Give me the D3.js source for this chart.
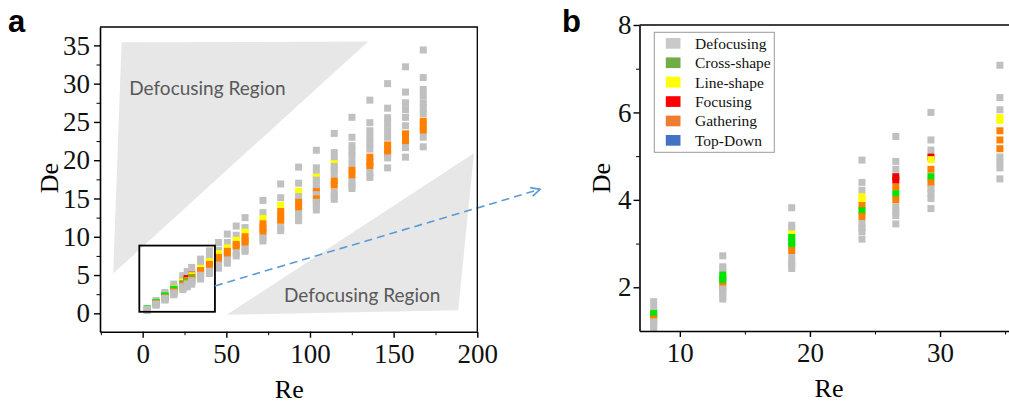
<!DOCTYPE html>
<html>
<head>
<meta charset="utf-8">
<script src="https://cdn.jsdelivr.net/npm/d3@7"></script>
<style>
body { margin: 0; background: #fff; }
svg { display: block; }
</style>
</head>
<body>
<svg id="chart" width="1009" height="405"></svg>
<script>
// Re of each column of runs
const reValues = [2.66, 7.99, 13.3, 18.6, 24.0, 26.6, 29.3, 34.6, 39.9, 45.3, 50.6, 55.9, 61.2,
	71.9, 82.5, 93.2, 103.8, 114.5, 125.1, 135.8, 146.4, 157.1, 167.7]

// De of the runs in each column, listed top to bottom (drawn in that order)
const deValues = [
	[0.6, 0.5, 0.45, 0.36],
	[1.67, 1.52, 1.40, 1.35, 1.27, 1.21, 1.14, 1.06],
	[2.72, 2.47, 2.42, 2.28, 2.20, 2.14, 2.02, 1.96, 1.88, 1.80, 1.73],
	[3.82, 3.42, 3.36, 3.22, 3.14, 3.04, 2.96, 2.84, 2.68, 2.58, 2.50, 2.43],
	[4.91, 4.40, 4.22, 4.07, 4.00, 3.87, 3.75, 3.62, 3.46, 3.36, 3.27, 3.10],
	[5.45, 4.88, 4.70, 4.53, 4.45, 4.29, 4.14, 4.00, 3.84, 3.74, 3.64, 3.45],
	[6.00, 5.37, 5.14, 4.98, 4.92, 4.70, 4.53, 4.39, 4.25, 4.15, 4.03, 3.80],
	[7.08, 6.34, 6.06, 5.88, 5.82, 5.58, 5.37, 5.17, 4.98, 4.86, 4.73, 4.48],
	[8.15, 7.3, 6.75, 6.4, 6.2, 5.5, 5.2],
	[9.25, 8.25, 7.8, 7.3, 6.9, 6.3, 5.9],
	[10.35, 9.25, 8.55, 8.1, 7.75, 6.97, 6.55],
	[11.4, 10.2, 9.55, 9.0, 8.75, 7.9, 7.5],
	[12.5, 11.2, 10.6, 10.0, 9.5, 9.1, 8.4, 8.1],
	[14.75, 13.15, 12.4, 11.7, 11.1, 10.6, 9.85, 9.45],
	[16.9, 15.1, 14.1, 13.3, 12.6, 12.15, 11.2, 10.8],
	[19.1, 17.0, 15.95, 15.85, 15.25, 14.5, 13.75, 13.0, 12.5, 12.1],
	[21.3, 19.0, 18.2, 17.8, 17.4, 16.8, 16.3, 15.9, 15.5, 14.95, 14.5, 14.1, 13.5],
	[23.5, 21.0, 20.2, 19.55, 19.2, 18.7, 18.2, 17.3, 16.75, 15.8, 15.3, 14.9],
	[25.6, 23.0, 21.9, 21.2, 20.5, 19.6, 18.7, 18.0, 17.2, 16.7, 16.3],
	[27.85, 24.9, 23.85, 23.0, 22.2, 21.45, 20.4, 19.7, 19.25, 18.4, 17.75],
	[30.0, 26.8, 25.55, 24.7, 23.85, 23.0, 22.0, 21.4, 20.85, 20.3, 19.0],
	[32.2, 28.9, 27.5, 26.6, 25.6, 24.5, 23.45, 22.75, 22.45, 21.65, 20.4],
	[34.4, 30.8, 29.25, 28.4, 27.5, 26.8, 26.1, 25.1, 24.5, 23.9, 23.0, 21.75],
]

// flow pattern of each run, same order as deValues
// D defocusing, C cross-shape, L line-shape, F focusing, G gathering, T top-down
const classes = [
	'CDDD',
	'DDCCGDDD',
	'DDDCCCGDDDD',
	'DDDLCCCGDDDD',
	'DDDLLGCGDDDD',
	'DDDFFGCGDDDD',
	'DDDFLGCGDDDD',
	'DDDLLGGGDDDD',
	'DDLGGDD',
	'DDLGGDD',
	'DDLGGDD',
	'DDLGGDD',
	'DDLGGGDD',
	'DDLGGGDD',
	'DDLGGGDD',
	'DDLLDGGDDD',
	'DDDLDDDGDGDDD',
	'DDDLDDDGGDDD',
	'DDDDDDGGDDD',
	'DDDDDDGGGDD',
	'DDDDDDGGGDD',
	'DDDDDDGGGDD',
	'DDDDDDDGGGDD',
]

const categories = ['Defocusing', 'Cross-shape', 'Line-shape', 'Focusing', 'Gathering', 'Top-Down']
const codes = ['D', 'C', 'L', 'F', 'G', 'T']
const markerColors = ['#c0c0c0', '#00e400', '#ffff00', '#ee0000', '#ff8000', '#4472c4']
const legendColors = ['#c9c9c9', '#70ad47', '#ffff00', '#ff0000', '#ed7d31', '#4472c4']

// shaded "Defocusing Region" areas in panel a, in (Re, De)
const upperRegion = [[-12.6, 35.4], [134.8, 35.5], [-17.6, 5.2]]
const lowerRegion = [[198, 20.9], [188.6, 0.4], [50.2, -0.2]]
const upperLabel = [-8, 28.5]
const lowerLabel = [84.5, 1.5]
const zoomBox = [[-2, 8.85], [43.2, 0.2]]
const zoomArrow = [[43.2, 3.58], [237.5, 16.2]]

const points = []
reValues.forEach((re, i) => {
	deValues[i].forEach((de, j) => {
		points.push({ re, de, cat: codes.indexOf(classes[i][j]) })
	})
})

const color = d3.scaleOrdinal().domain(d3.range(codes.length)).range(markerColors)
const svg = d3.select('#chart')
const serif = 'Liberation Serif, Times New Roman, serif'
const mark = 7
const fmt = d3.format('d')

function styleAxis(g, size) {
	g.select('.domain').attr('stroke-width', 1.6)
	g.selectAll('.tick line').attr('stroke-width', 1.4)
	g.selectAll('text')
		.attr('font-family', serif)
		.attr('font-size', size)
		.attr('fill', '#111')
}

// ---------- panel a ----------
const xA = d3.scaleLinear().domain([-25.5, 200]).range([100, 477.3])
const yA = d3.scaleLinear().domain([-2.4, 37.4]).range([331.7, 27])
const a = svg.append('g')
const line = d3.line().x(d => xA(d[0])).y(d => yA(d[1]))

a.selectAll('path.region')
		.data([upperRegion, lowerRegion])
	.enter().append('path')
		.attr('class', 'region')
		.attr('d', d => line(d) + 'Z')
		.attr('fill', '#e7e7e7')

a.selectAll('text.region')
		.data([upperLabel, lowerLabel])
	.enter().append('text')
		.attr('class', 'region')
		.attr('x', d => xA(d[0]))
		.attr('y', d => yA(d[1]))
		.attr('font-family', 'Lato, Open Sans, sans-serif')
		.attr('font-size', 19)
		.attr('fill', '#595959')
		.text('Defocusing Region')

a.selectAll('rect.pt')
		.data(points)
	.enter().append('rect')
		.attr('class', 'pt')
		.attr('x', d => xA(d.re) - mark / 2)
		.attr('y', d => yA(d.de) - mark / 2)
		.attr('width', mark)
		.attr('height', mark)
		.attr('fill', d => color(d.cat))

a.append('rect')
	.attr('x', xA(zoomBox[0][0]))
	.attr('y', yA(zoomBox[0][1]))
	.attr('width', xA(zoomBox[1][0]) - xA(zoomBox[0][0]))
	.attr('height', yA(zoomBox[1][1]) - yA(zoomBox[0][1]))
	.attr('fill', 'none')
	.attr('stroke', '#000')
	.attr('stroke-width', 1.8)

svg.append('defs').append('marker')
	.attr('id', 'arrow')
	.attr('viewBox', '0 0 10 10')
	.attr('refX', 9).attr('refY', 5)
	.attr('markerWidth', 7).attr('markerHeight', 7)
	.attr('orient', 'auto')
	.append('path')
	.attr('d', 'M1,1L9,5L1,9')
	.attr('fill', 'none')
	.attr('stroke', '#5b9bd5')
	.attr('stroke-width', 1.5)

a.append('path')
	.attr('d', line(zoomArrow))
	.attr('stroke', '#5b9bd5')
	.attr('stroke-width', 1.6)
	.attr('stroke-dasharray', '8,5')
	.attr('marker-end', 'url(#arrow)')

// frame
a.append('path')
	.attr('d', `M${xA.range()[0]},${yA.range()[1]}H${xA.range()[1]}V${yA.range()[0]}`)
	.attr('fill', 'none')
	.attr('stroke', '#000')
	.attr('stroke-width', 1.3)

a.append('g')
	.attr('transform', `translate(0,${yA.range()[0]})`)
	.call(d3.axisBottom(xA).tickValues([-25, 25, 75, 125, 175]).tickSize(3.5).tickFormat(''))
	.call(g => g.select('.domain').remove())
a.append('g')
	.attr('transform', `translate(0,${yA.range()[0]})`)
	.call(d3.axisBottom(xA).tickValues([0, 50, 100, 150, 200]).tickSize(6).tickSizeOuter(0).tickPadding(6).tickFormat(fmt))
	.call(g => styleAxis(g, 27))
a.append('g')
	.attr('transform', `translate(${xA.range()[0]},0)`)
	.call(d3.axisLeft(yA).tickValues(d3.range(2.5, 35, 5)).tickSize(3.5).tickFormat(''))
	.call(g => g.select('.domain').remove())
a.append('g')
	.attr('transform', `translate(${xA.range()[0]},0)`)
	.call(d3.axisLeft(yA).tickValues(d3.range(0, 36, 5)).tickSize(6).tickSizeOuter(0).tickPadding(4).tickFormat(fmt))
	.call(g => styleAxis(g, 27))

a.append('text')
	.attr('x', 289.3).attr('y', 398)
	.attr('text-anchor', 'middle')
	.attr('font-family', serif).attr('font-size', 26)
	.text('Re')
a.append('text')
	.attr('transform', 'translate(58,178) rotate(-90)')
	.attr('text-anchor', 'middle')
	.attr('font-family', serif).attr('font-size', 26)
	.text('De')

// ---------- panel b ----------
const xB = d3.scaleLinear().domain([6.9, 35.3]).range([639.5, 1009])
const yB = d3.scaleLinear().domain([1, 8]).range([331, 25])
const b = svg.append('g')

svg.select('defs').append('clipPath')
	.attr('id', 'clipB')
	.append('rect')
	.attr('x', xB.range()[0]).attr('y', yB.range()[1])
	.attr('width', xB.range()[1] - xB.range()[0])
	.attr('height', yB.range()[0] - yB.range()[1])

b.append('g')
	.attr('clip-path', 'url(#clipB)')
	.selectAll('rect')
		.data(points.filter(d => d.re > xB.domain()[0] && d.re < xB.domain()[1]))
	.enter().append('rect')
		.attr('x', d => xB(d.re) - mark / 2)
		.attr('y', d => yB(d.de) - mark / 2)
		.attr('width', mark)
		.attr('height', mark)
		.attr('fill', d => color(d.cat))

b.append('path')
	.attr('d', `M${xB.range()[0]},${yB.range()[1]}H${xB.range()[1]}`)
	.attr('stroke', '#000')
	.attr('stroke-width', 1.3)

b.append('g')
	.attr('transform', `translate(0,${yB.range()[0]})`)
	.call(d3.axisBottom(xB).tickValues([15, 25, 35]).tickSize(3.5).tickFormat(''))
	.call(g => g.select('.domain').remove())
b.append('g')
	.attr('transform', `translate(0,${yB.range()[0]})`)
	.call(d3.axisBottom(xB).tickValues([10, 20, 30]).tickSize(6).tickSizeOuter(0).tickPadding(6).tickFormat(fmt))
	.call(g => styleAxis(g, 27))
b.append('g')
	.attr('transform', `translate(${xB.range()[0]},0)`)
	.call(d3.axisLeft(yB).tickValues([3, 5, 7]).tickSize(3.5).tickFormat(''))
	.call(g => g.select('.domain').remove())
b.append('g')
	.attr('transform', `translate(${xB.range()[0]},0)`)
	.call(d3.axisLeft(yB).tickValues([2, 4, 6, 8]).tickSize(6).tickSizeOuter(0).tickPadding(2).tickFormat(fmt))
	.call(g => styleAxis(g, 27))

b.append('text')
	.attr('x', 829).attr('y', 396.7)
	.attr('text-anchor', 'middle')
	.attr('font-family', serif).attr('font-size', 26)
	.text('Re')
b.append('text')
	.attr('transform', 'translate(610,178) rotate(-90)')
	.attr('text-anchor', 'middle')
	.attr('font-family', serif).attr('font-size', 26)
	.text('De')

// legend
const legend = b.append('g').attr('transform', 'translate(654.3,32.3)')
legend.append('rect')
	.attr('width', 120).attr('height', 120)
	.attr('fill', '#fff')
	.attr('stroke', '#9a9a9a')
	.attr('stroke-width', 1)
const item = legend.selectAll('g.item')
		.data(categories)
	.enter().append('g')
		.attr('class', 'item')
		.attr('transform', (d, i) => `translate(0,${11 + i * 19.4})`)
item.append('rect')
	.attr('x', 11.5).attr('y', -5.3)
	.attr('width', 14.7).attr('height', 10.7)
	.attr('fill', (d, i) => legendColors[i])
item.append('text')
	.attr('x', 40.7).attr('dy', '0.35em')
	.attr('font-family', serif).attr('font-size', 15.5)
	.attr('fill', '#111')
	.text(d => d)

// panel letters
svg.selectAll('text.panel')
		.data([['a', 8], ['b', 562]])
	.enter().append('text')
		.attr('class', 'panel')
		.attr('x', d => d[1]).attr('y', 32)
		.attr('font-family', 'Liberation Sans, Arial, sans-serif')
		.attr('font-weight', 'bold')
		.attr('font-size', 31)
		.text(d => d[0])
</script>
</body>
</html>
